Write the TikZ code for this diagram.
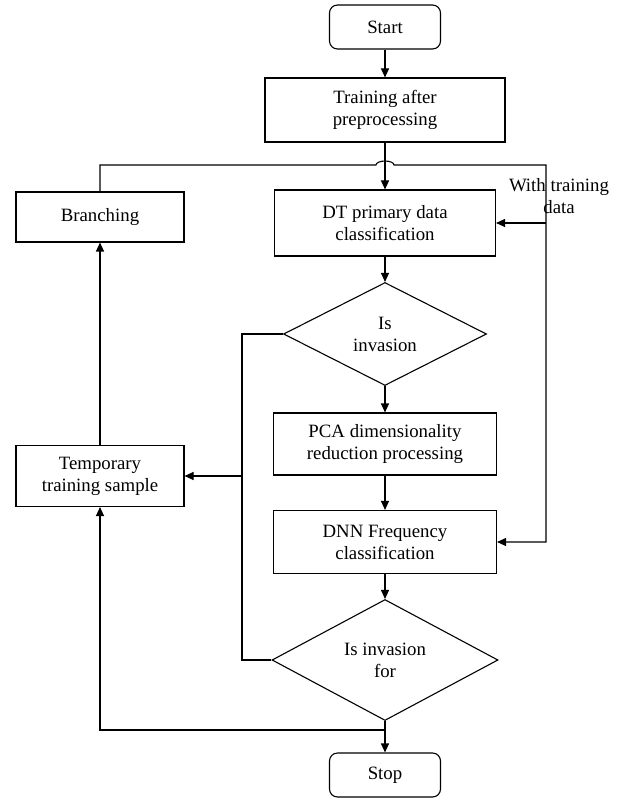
\documentclass[tikz,border=0pt]{standalone}
\usepackage{fontspec}
\setmainfont{Liberation Serif}
\usetikzlibrary{shapes.geometric,arrows.meta}
\begin{document}
\begin{tikzpicture}[x=1pt,y=-1pt,line width=1.1pt,
  font=\fontsize{18.8}{22}\selectfont,
  box/.style={draw,rectangle,align=center,inner sep=0pt},
  term/.style={box,rounded corners=8pt,minimum width=111pt,minimum height=44pt},
  decision/.style={draw,diamond,align=center,inner sep=0pt},
  arr/.style={-{Triangle[length=9pt,width=8pt]}}]
\useasboundingbox (0,0) rectangle (624,799);
% Main column
\node[term] (start) at (385,27) {Start};
\node[box,minimum width=240pt,minimum height=64pt] (train) at (385,110) {Training after\\preprocessing};
\node[box,minimum width=221pt,minimum height=66pt] (dt) at (385,223) {DT primary data\\classification};
\node[decision,minimum width=203pt,minimum height=103pt] (dec1) at (385,334) {Is\\invasion};
\node[box,minimum width=223pt,minimum height=62pt] (pca) at (385,444) {PCA dimensionality\\reduction processing};
\node[box,minimum width=223pt,minimum height=63pt] (dnn) at (385,542) {DNN Frequency\\classification};
\node[decision,minimum width=226pt,minimum height=121pt] (dec2) at (385,660) {Is invasion\\for};
\node[term] (stop) at (385,775) {Stop};
% Left column
\node[box,minimum width=168pt,minimum height=50pt] (branch) at (100,217) {Branching};
\node[box,minimum width=168pt,minimum height=61pt] (temp) at (100,476) {Temporary\\training sample};
% Label on the right line
\node[align=center,inner sep=0pt] (lbl) at (559,196) {With training\\data};
% Helper points
\coordinate (hop) at (385,165);
\coordinate (rgt) at (546,165);
\coordinate (lft) at (242,334);
\coordinate (jn) at (385,730);
% Downward flow
\draw[arr] (start) -- (train);
\draw[arr] (train) -- (dt);
\draw[arr] (dt) -- (dec1);
\draw[arr] (dec1) -- (pca);
\draw[arr] (pca) -- (dnn);
\draw[arr] (dnn) -- (dec2);
\draw[arr] (dec2) -- (stop);
% Loop back over the top, with a hop
\draw[arr] (branch.north) |- ([xshift=-9pt]hop)
  arc[start angle=180,end angle=360,x radius=9,y radius=4]
  -- (rgt) |- (dnn.east);
\draw[arr] (rgt |- dt.east) -- (dt.east);
% Left line from both decisions
\draw (dec1.west) -- (lft) -- (lft |- dec2.west) -- (dec2.west);
\draw[arr] (lft |- temp.east) -- (temp.east);
% Bottom return
\draw[arr] (jn) -| (temp.south);
\draw[arr] (temp) -- (branch);
\end{tikzpicture}
\end{document}
